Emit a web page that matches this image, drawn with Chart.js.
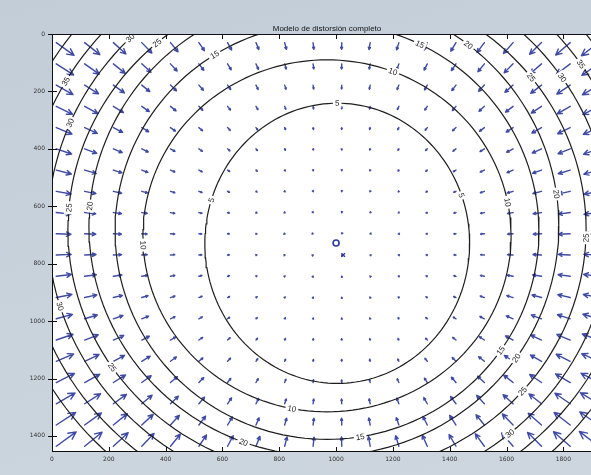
<!DOCTYPE html>
<html>
<head>
<meta charset="utf-8">
<script src="https://cdn.jsdelivr.net/npm/chart.js@4/dist/chart.umd.min.js"></script>
<style>
  html, body { margin: 0; padding: 0; width: 591px; height: 475px; overflow: hidden; }
  body { background: linear-gradient(165deg, #c2cdd8 0%, #c9d3dc 55%, #cdd6de 100%); }
  canvas { display: block; }
</style>
</head>
<body>
<canvas id="chart" width="612" height="475"></canvas>
<script>
// Sensor size in pixels (axis limits)
const imageWidth = 1936;
const imageHeight = 1456;

// Axis tick values
const xTickValues = [0, 200, 400, 600, 800, 1000, 1200, 1400, 1600, 1800];
const yTickValues = [0, 200, 400, 600, 800, 1000, 1200, 1400];

// Sampling grid of the vector field (pixel coordinates)
const gridX = [15, 115, 216, 316, 417, 517, 618, 718, 819, 919, 1020, 1120, 1221, 1321, 1422, 1522, 1623, 1723, 1824, 1924];
const gridY = [30, 104, 178, 252, 326, 400, 474, 548, 622, 696, 770, 844, 918, 992, 1066, 1140, 1214, 1288, 1362, 1436];

// Principal point (o) and image centre (x)
const principalPoint = [1000, 728];
const imageCenter = [1025, 770];

// Iso-distortion curves: level (pixels) and the ellipse each one follows
const contourLevels = [5, 10, 15, 20, 25, 30, 35, 40];
const ringCenterX  = [1004, 968, 968, 957, 968, 975, 975, 975];
const ringCenterY  = [729, 703, 687, 669, 680, 675, 670, 665];
const ringRadiusX  = [466, 648, 746, 827, 912, 990, 1070, 1145];
const ringRadiusY  = [488, 613, 725, 801, 860, 935, 1010, 1085];

// Where each curve carries its inline label: [level index, angle in degrees]
const labelSpots = [
  [0, -90], [0, -162], [0, -20],
  [1, -69], [1, 101], [1, -11], [1, 177],
  [2, -122], [2, -64], [2, 81], [2, 35],
  [3, -52], [3, -8], [3, 35], [3, 110], [3, -175],
  [4, -38], [4, -131], [4, 2], [4, 41], [4, -175], [4, 146],
  [5, -34], [5, -135], [5, -157], [5, 163], [5, 50],
  [6, -150], [6, -34]
];

const ARROW_COLOR = '#3f4aa6';
const LINE_COLOR = '#1e1e1e';
const arrowScale = 1.85;   // data units of arrow length per pixel of distortion

function ringScale(i, px, py) {
  const dx = (px - ringCenterX[i]) / ringRadiusX[i];
  const dy = (py - ringCenterY[i]) / ringRadiusY[i];
  return Math.hypot(dx, dy);
}

// Distortion magnitude at a point, taken between the neighbouring iso-curves
function magnitudeAt(px, py) {
  const n = contourLevels.length;
  const s = contourLevels.map((_, i) => ringScale(i, px, py));
  if (s[0] <= 1) return contourLevels[0] * s[0] * s[0];
  for (let i = 1; i < n; i++) {
    if (s[i] <= 1) {
      const t = (s[i - 1] - 1) / (s[i - 1] - s[i]);
      return contourLevels[i - 1] + t * (contourLevels[i] - contourLevels[i - 1]);
    }
  }
  const t = (s[n - 2] - 1) / (s[n - 2] - s[n - 1]);
  return contourLevels[n - 2] + t * (contourLevels[n - 1] - contourLevels[n - 2]);
}

function ringPoint(i, deg) {
  const a = deg * Math.PI / 180;
  return { x: ringCenterX[i] + ringRadiusX[i] * Math.cos(a),
           y: ringCenterY[i] + ringRadiusY[i] * Math.sin(a) };
}

// One line dataset per iso-curve
const contourDatasets = contourLevels.map((lvl, i) => {
  const pts = [];
  for (let d = 0; d <= 360; d += 2) pts.push(ringPoint(i, d));
  return {
    type: 'line', label: String(lvl), data: pts,
    borderColor: LINE_COLOR, borderWidth: 1.2, pointRadius: 0,
    tension: 0, fill: false, order: 2
  };
});

function clipToArea(ctx, a) {
  ctx.beginPath();
  ctx.rect(a.left, a.top, a.right - a.left, a.bottom - a.top);
  ctx.clip();
}

// White plot box, then the vector field under the curves
const quiverPlugin = {
  id: 'quiver',
  beforeDatasetsDraw(chart) {
    const { ctx, chartArea: a, scales: { x, y } } = chart;
    ctx.save();
    ctx.fillStyle = '#ffffff';
    ctx.fillRect(a.left, a.top, a.right - a.left, a.bottom - a.top);
    clipToArea(ctx, a);
    ctx.strokeStyle = ARROW_COLOR;
    ctx.lineCap = 'round';
    ctx.lineJoin = 'round';
    for (const gy of gridY) {
      for (const gx of gridX) {
        const mag = magnitudeAt(gx, gy);
        const vx = principalPoint[0] - gx, vy = principalPoint[1] - gy;
        const vl = Math.hypot(vx, vy) || 1;
        const tx = gx + vx / vl * mag * arrowScale;
        const ty = gy + vy / vl * mag * arrowScale;
        const x0 = x.getPixelForValue(gx), y0 = y.getPixelForValue(gy);
        const x1 = x.getPixelForValue(tx), y1 = y.getPixelForValue(ty);
        const len = Math.hypot(x1 - x0, y1 - y0);
        ctx.lineWidth = 1.4;
        ctx.beginPath();
        ctx.moveTo(x0, y0);
        ctx.lineTo(x1, y1);
        const ang = Math.atan2(y1 - y0, x1 - x0);
        const hl = Math.max(1.2, len * 0.34);
        ctx.moveTo(x1 - hl * Math.cos(ang - 0.45), y1 - hl * Math.sin(ang - 0.45));
        ctx.lineTo(x1, y1);
        ctx.lineTo(x1 - hl * Math.cos(ang + 0.45), y1 - hl * Math.sin(ang + 0.45));
        ctx.stroke();
      }
    }
    ctx.restore();
  }
};

// Inline level labels, frame, inward ticks and title
const decorPlugin = {
  id: 'decor',
  afterDatasetsDraw(chart) {
    const { ctx, chartArea: a, scales: { x, y } } = chart;
    ctx.save();
    clipToArea(ctx, a);
    ctx.font = '8px "Liberation Sans", Arial, sans-serif';
    ctx.textAlign = 'center';
    ctx.textBaseline = 'middle';
    for (const [i, deg] of labelSpots) {
      const p = ringPoint(i, deg);
      const q = ringPoint(i, deg + 1);
      const px = x.getPixelForValue(p.x), py = y.getPixelForValue(p.y);
      const qx = x.getPixelForValue(q.x), qy = y.getPixelForValue(q.y);
      let rot = Math.atan2(qy - py, qx - px);
      if (rot > Math.PI / 2) rot -= Math.PI;
      if (rot < -Math.PI / 2) rot += Math.PI;
      const txt = String(contourLevels[i]);
      const w = ctx.measureText(txt).width + 4;
      ctx.save();
      ctx.translate(px, py);
      ctx.rotate(rot);
      ctx.fillStyle = '#ffffff';
      ctx.fillRect(-w / 2, -4.5, w, 9);
      ctx.fillStyle = '#222';
      ctx.fillText(txt, 0, 0.5);
      ctx.restore();
    }
    ctx.restore();

    ctx.save();
    ctx.strokeStyle = '#111';
    ctx.lineWidth = 1;
    ctx.strokeRect(a.left + 0.5, a.top + 0.5, a.right - a.left - 1, a.bottom - a.top - 1);
    ctx.beginPath();
    for (const v of xTickValues) {
      const px = Math.round(x.getPixelForValue(v)) + 0.5;
      ctx.moveTo(px, a.bottom); ctx.lineTo(px, a.bottom - 5);
      ctx.moveTo(px, a.top); ctx.lineTo(px, a.top + 5);
    }
    for (const v of yTickValues) {
      const py = Math.round(y.getPixelForValue(v)) + 0.5;
      ctx.moveTo(a.left - 4, py); ctx.lineTo(a.left + 5, py);
      ctx.moveTo(a.right, py); ctx.lineTo(a.right - 5, py);
    }
    ctx.stroke();
    ctx.fillStyle = '#111';
    ctx.font = '8px "Liberation Sans", Arial, sans-serif';
    ctx.textAlign = 'center';
    ctx.textBaseline = 'alphabetic';
    ctx.fillText('Modelo de distorsión completo', (a.left + a.right) / 2, a.top - 3);
    ctx.restore();
  }
};

const tickFont = { family: '"DejaVu Sans", sans-serif', size: 6 };

new Chart(document.getElementById('chart'), {
  type: 'scatter',
  data: {
    datasets: [
      ...contourDatasets,
      {
        label: 'principal point', data: [{ x: principalPoint[0], y: principalPoint[1] }],
        pointStyle: 'circle', pointRadius: 3, borderColor: '#2b3aa0', borderWidth: 1.6,
        backgroundColor: 'rgba(0,0,0,0)', order: 1
      },
      {
        label: 'image centre', data: [{ x: imageCenter[0], y: imageCenter[1] }],
        pointStyle: 'crossRot', pointRadius: 2.5, borderColor: '#2b3aa0', borderWidth: 1.4, order: 1
      }
    ]
  },
  options: {
    responsive: false,
    animation: false,
    devicePixelRatio: 1,
    layout: { padding: { top: 34, right: 10, left: 0, bottom: 0 } },
    plugins: { legend: { display: false }, tooltip: { enabled: false }, title: { display: false } },
    scales: {
      x: {
        type: 'linear', position: 'bottom', min: 0, max: imageWidth,
        afterBuildTicks: s => { s.ticks = xTickValues.map(v => ({ value: v })); },
        afterFit: s => { s.height = 23; },
        ticks: { font: tickFont, color: '#333', padding: 4, maxRotation: 0, autoSkip: false,
                 callback: v => String(v) },
        grid: { display: false, drawTicks: false },
        border: { display: false }
      },
      y: {
        type: 'linear', reverse: true, min: 0, max: imageHeight,
        afterBuildTicks: s => { s.ticks = yTickValues.map(v => ({ value: v })); },
        afterFit: s => { s.width = 52; },
        ticks: { font: tickFont, color: '#333', padding: 7, autoSkip: false,
                 callback: v => String(v) },
        grid: { display: false, drawTicks: false },
        border: { display: false }
      }
    }
  },
  plugins: [quiverPlugin, decorPlugin]
});
</script>
</body>
</html>
